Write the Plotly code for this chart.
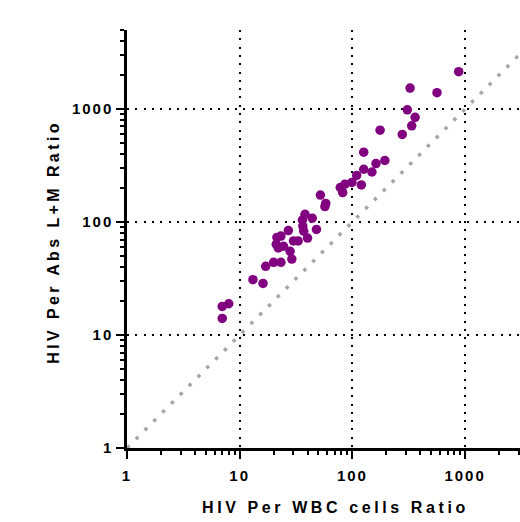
import plotly.graph_objects as go

# Data: HIV per WBC cells ratio (x) vs HIV per Abs L+M ratio (y)
wbc_ratio = [877, 325, 563, 307, 360, 336, 176, 277, 126, 194, 162, 126, 149, 109,
             120, 99, 86, 78, 82, 52, 58, 57, 38, 44, 36, 36.3, 37, 48, 27, 40,
             21.4, 23.2, 30, 33, 22, 24.5, 28, 29, 20, 23.2, 17, 16.1, 13.1, 8.0,
             7.0, 7.0, 21.1]
lm_ratio = [2138, 1532, 1393, 984, 843, 710, 650, 596, 415, 350, 329, 293, 277, 258,
            213, 224, 216, 202, 182, 173, 146, 137, 117, 108, 104, 92, 83, 86, 84, 72,
            73, 75, 68, 68, 59, 61, 55, 47, 44, 44, 40.5, 28.6, 30.9, 18.9,
            17.9, 14.0, 63.4]

identity = [1, 5000]
major_ticks = [1, 10, 100, 1000]
tick_labels = ["1", "10", "100", "1000"]
minor_ticks = [m * 10 ** k for k in range(4) for m in range(2, 10)]

x_title = "HIV Per WBC cells Ratio"
y_title = "HIV Per Abs L+M Ratio"

FONT = "Liberation Sans, Arial, sans-serif"


def spaced(s, ls):
    return f'<span style="letter-spacing:{ls}px">{s}</span>'


fig = go.Figure()
fig.add_trace(go.Scatter(
    x=identity, y=identity, mode="lines",
    line=dict(color="#a6a6a6", width=3.5, dash="3.5px,9px"),
    hoverinfo="skip", showlegend=False))
fig.add_trace(go.Scatter(
    x=wbc_ratio, y=lm_ratio, mode="markers",
    marker=dict(color="#800080", size=9.5, line=dict(width=0)),
    showlegend=False))

axis_common = dict(
    type="log",
    showline=True, linecolor="black", linewidth=2.5,
    ticks="outside", ticklen=8, tickwidth=2, tickcolor="black",
    tickvals=major_ticks,
    ticktext=[spaced(t, 2) for t in tick_labels],
    tickfont=dict(family=FONT, size=15, color="black", weight="bold"),
    showgrid=True, gridcolor="black", gridwidth=2, griddash="2px,6.3px",
    minor=dict(tickvals=minor_ticks, ticks="outside", ticklen=4, tickwidth=2,
               tickcolor="black", showgrid=False),
    zeroline=False,
)

fig.update_xaxes(range=[0, 3.487], ticklabelstandoff=4, **axis_common)
fig.update_yaxes(range=[0, 3.699], **axis_common)

fig.add_annotation(
    text=spaced(x_title, 3.6), xref="paper", yref="paper",
    x=0.53, y=-0.142, xanchor="center", yanchor="middle", showarrow=False,
    font=dict(family=FONT, size=16, color="black", weight="bold"))
fig.add_annotation(
    text=spaced(y_title, 3.4), xref="paper", yref="paper",
    x=-0.186, y=0.493, xanchor="center", yanchor="middle", showarrow=False,
    textangle=-90,
    font=dict(family=FONT, size=16, color="black", weight="bold"))

fig.update_layout(
    width=520, height=522,
    margin=dict(l=127, r=0, t=30, b=74),
    plot_bgcolor="white", paper_bgcolor="white",
    showlegend=False,
)

fig.write_html("out.html")
